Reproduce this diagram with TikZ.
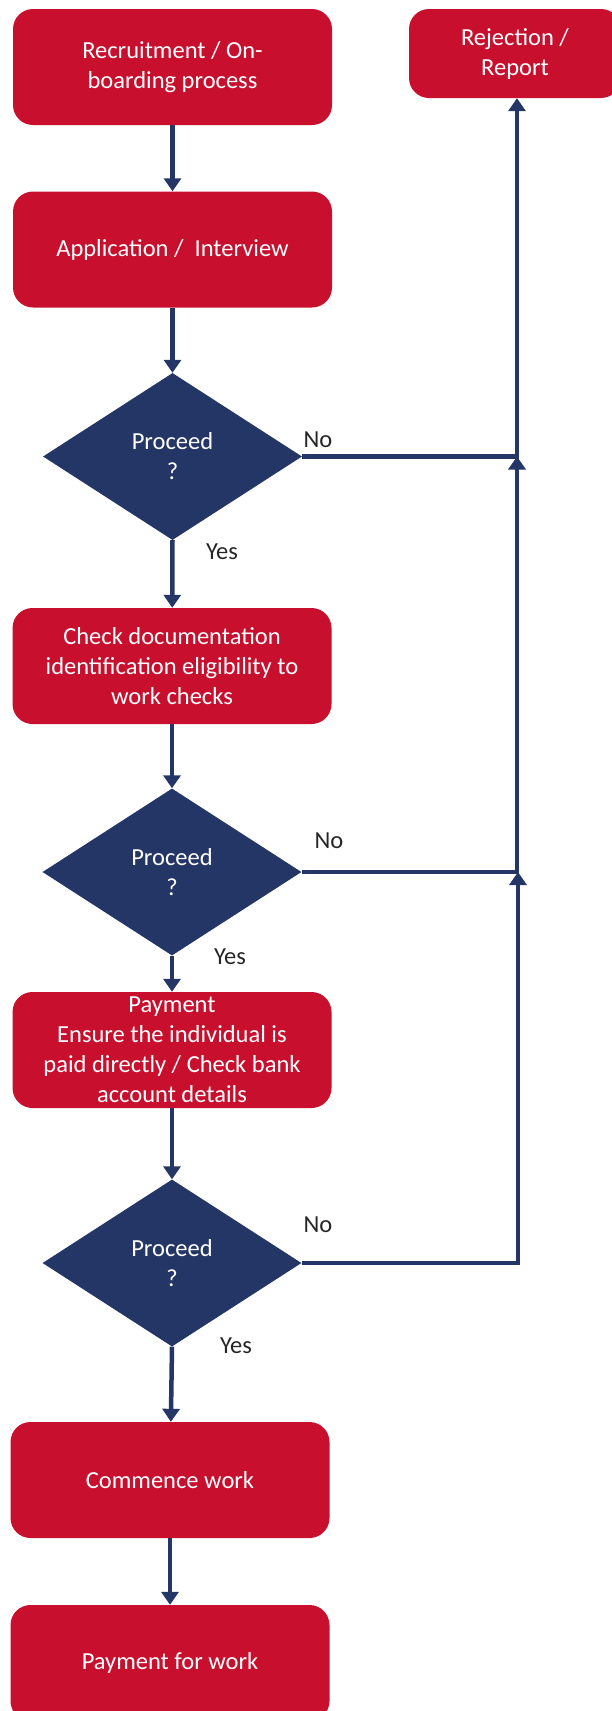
\documentclass[tikz,border=0pt]{standalone}
\usepackage{fontspec}
\setmainfont{Carlito}
\usepackage{tikz}
\usetikzlibrary{arrows.meta, shapes.geometric, positioning, calc}
\usepackage{xcolor}

\definecolor{boxred}{RGB}{200,16,46}
\definecolor{navyblue}{RGB}{36,54,101}

\tikzset{
  procbox/.style={rectangle, rounded corners=20pt, fill=boxred, text=white,
    align=center, inner sep=0pt, minimum width=319pt, minimum height=116pt,
    font=\fontsize{24.5}{30}\selectfont},
  decision/.style={diamond, aspect=1.55, fill=navyblue, text=white,
    align=center, inner sep=0pt, minimum width=259pt, minimum height=167pt,
    font=\fontsize{24.5}{30}\selectfont},
  answer/.style={text=black!85, font=\fontsize{24.5}{30}\selectfont},
  flow/.style={navyblue, line width=4.5pt, -{Triangle[length=13pt,width=17pt]}}
}

\begin{document}
\begin{tikzpicture}[x=1pt, y=-1pt]
      \useasboundingbox (0,0) rectangle (612,1711);

      % boxes
      \node[procbox] (recruit) at (172.5, 67) {Recruitment / On-\\boarding process};
      \node[procbox] (apply) at (172.5, 249.5) {Application /\ \ Interview};
      \node[procbox, minimum width=212pt, minimum height=89pt] (reject) at (515, 53.5) {Rejection /\\Report};
      \node[procbox] (docs) at (172, 666) {Check documentation\\identification eligibility to\\work checks};
      \node[procbox] (pay) at (172, 1050) {Payment\\Ensure the individual is\\paid directly / Check bank\\account details};
      \node[procbox] (start) at (170, 1480) {Commence work};
      \node[procbox] (payout) at (170, 1663) {Payment for work};

      % decisions
      \node[decision] (dec1) at (172.5, 456.5) {Proceed\\?};
      \node[decision] (dec2) at (172, 872) {Proceed\\?};
      \node[decision] (dec3) at (172, 1263) {Proceed\\?};

      \coordinate (j1) at (517, 456.5);
      \coordinate (j2) at (517, 872);
      \coordinate (j3) at (518, 1263);

      % answers
      \node[answer] (no1) at (318, 440) {No};
      \node[answer] (yes1) at (222, 552) {Yes};
      \node[answer] (no2) at (329, 841) {No};
      \node[answer] (yes2) at (230, 957) {Yes};
      \node[answer] (no3) at (318, 1225) {No};
      \node[answer] (yes3) at (236, 1346) {Yes};

      % main flow
      \draw[flow] (recruit) -- (apply);
      \draw[flow] (apply) -- (dec1.north);
      \draw[flow] (dec1.south) -- (docs);
      \draw[flow] (docs) -- (dec2.north);
      \draw[flow] (dec2.south) -- (pay);
      \draw[flow] (pay) -- (dec3.north);
      \draw[flow] (dec3.south) -- (start);
      \draw[flow] (start) -- (payout);

      % rejections
      \draw[flow] (dec1.east) -- (j1) -- (j1 |- reject.south);
      \draw[flow] (dec2.east) -- (j2) -- (j1);
      \draw[flow] (dec3.east) -- (j3) -- (j2 -| j3);

    \end{tikzpicture}
\end{document}
